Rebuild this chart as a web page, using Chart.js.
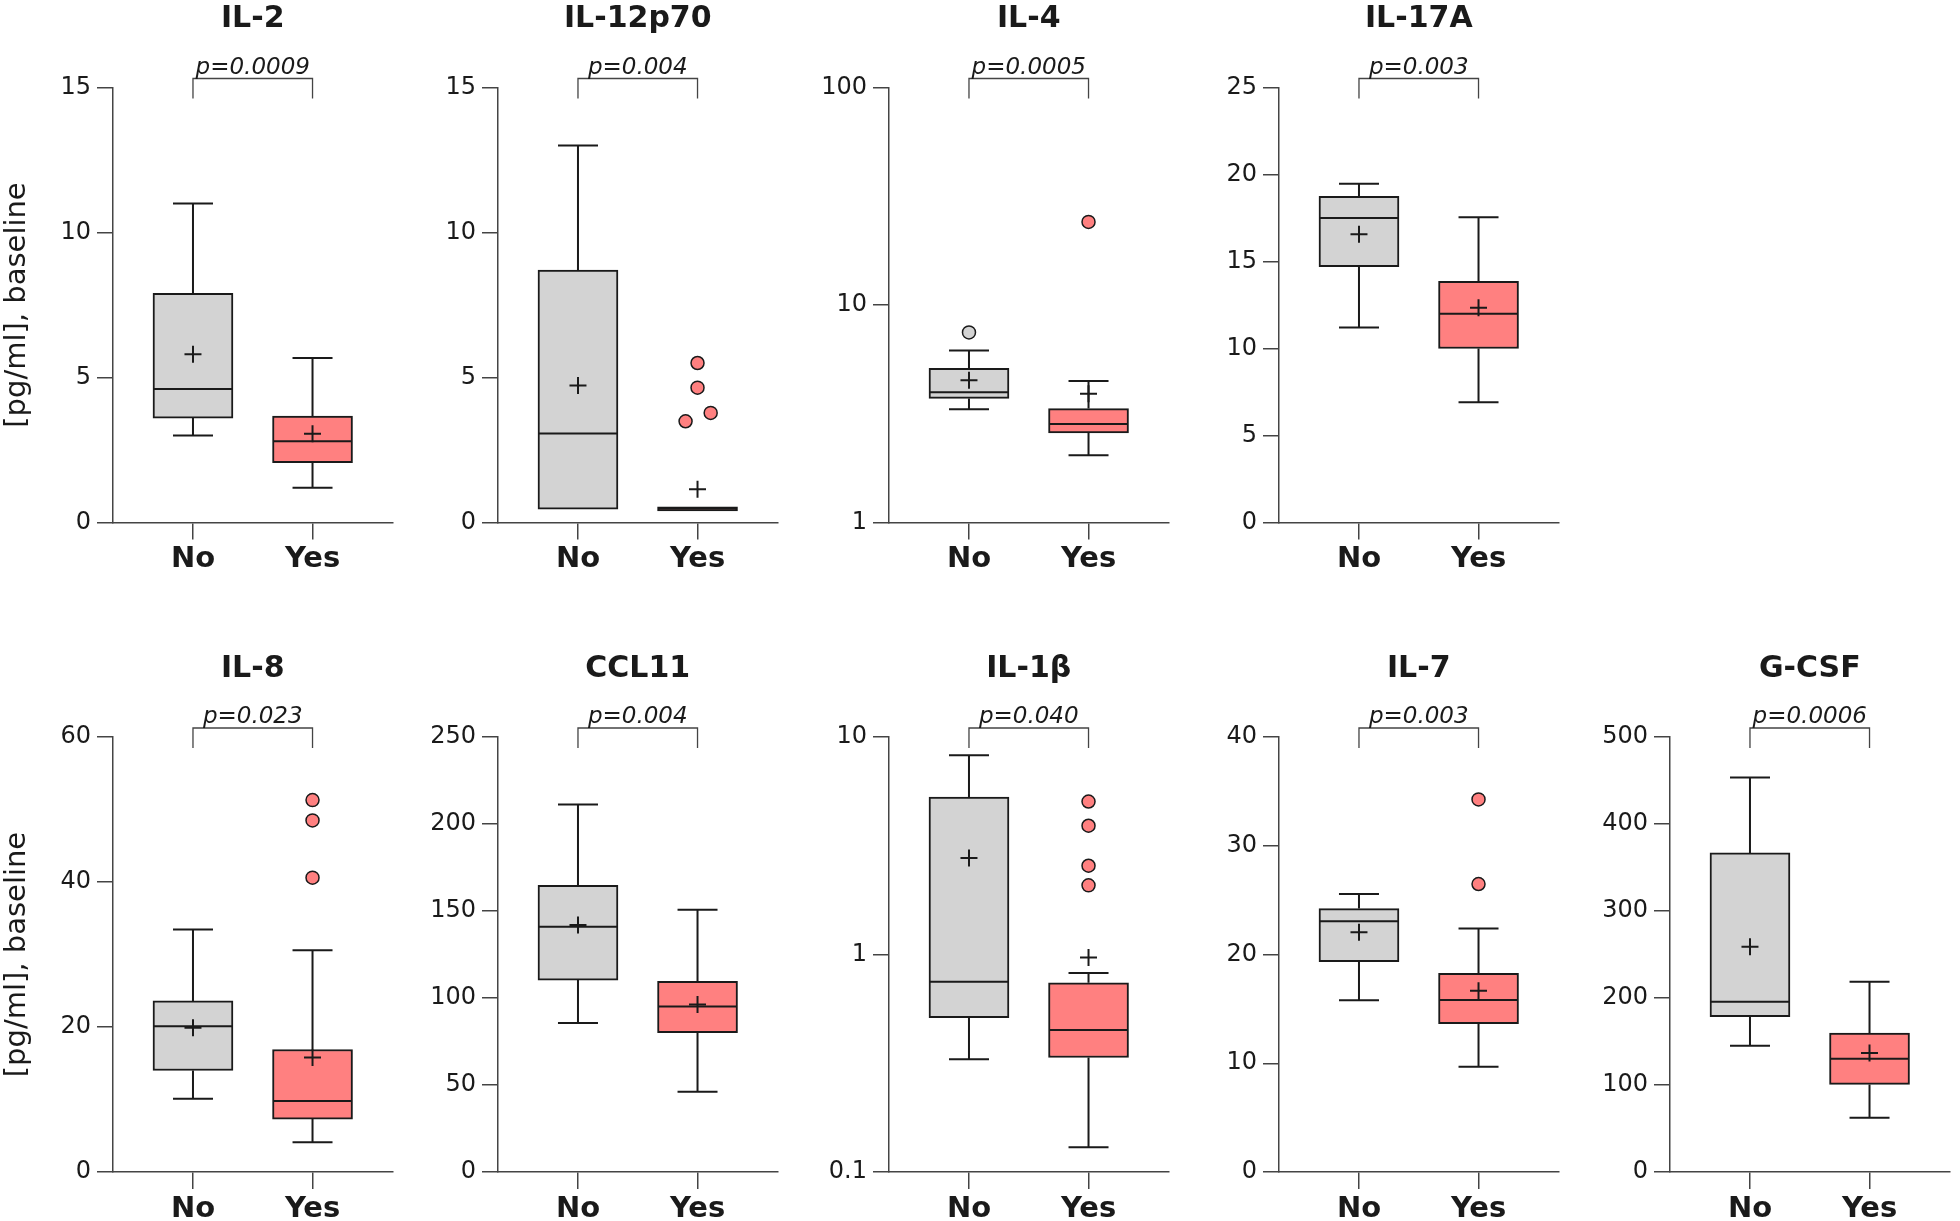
<!DOCTYPE html>
<html><head><meta charset="utf-8">
<script src="https://cdn.jsdelivr.net/npm/chart.js@4.4.1/dist/chart.umd.min.js"></script>
<style>
html,body{margin:0;padding:0;background:#fff;}
#wrap{position:relative;width:1960px;height:1221px;overflow:hidden;background:#fff;}
#wrap canvas{position:absolute;}
</style></head><body><div id="wrap"></div>
<script>
// ---------------- data ----------------
const panelTitles = ['IL-2','IL-12p70','IL-4','IL-17A','IL-8','CCL11','IL-1β','IL-7','G-CSF'];
const pValues = ['p=0.0009','p=0.004','p=0.0005','p=0.003','p=0.023','p=0.004','p=0.040','p=0.003','p=0.0006'];
const groups = ['No','Yes'];
const yAxisTitle = '[pg/ml], baseline';
const yTicks = [
  [0,5,10,15],[0,5,10,15],[1,10,100],[0,5,10,15,20,25],
  [0,20,40,60],[0,50,100,150,200,250],[0.1,1,10],[0,10,20,30,40],[0,100,200,300,400,500]
];
const logAxis = [false,false,true,false,false,false,true,false,false];
// [lower whisker, Q1, median, Q3, upper whisker]
const noStats = [
  [3.0,3.6,4.6,7.9,11.0],
  [0.46,0.46,3.07,8.7,13.0],
  [3.32,3.72,3.97,5.11,6.18],
  [11.2,14.7,17.5,18.75,19.47],
  [10.1,14.0,20.1,23.6,33.45],
  [85.6,110.3,141.0,164.8,211.2],
  [0.33,0.512,0.75,5.30,8.24],
  [15.8,19.33,23.06,24.22,25.56],
  [145,178.5,195.6,366.8,453.4]
];
const yesStats = [
  [1.2,2.06,2.8,3.67,5.67],
  [0.40,0.40,0.47,0.54,0.54],
  [2.04,2.58,2.84,3.34,4.47],
  [6.91,10.0,12.0,13.86,17.54],
  [4.1,7.3,9.8,16.9,30.6],
  [46.1,80.1,95.1,109.6,150.7],
  [0.13,0.336,0.45,0.741,0.823],
  [9.68,13.63,15.81,18.27,22.39],
  [62.4,100.7,130.2,159.6,218.6]
];
const noMeans  = [5.8,4.72,4.51,16.57,19.9,142,2.78,22.04,259];
const yesMeans = [3.06,1.15,3.91,12.34,15.8,96.2,0.97,16.66,136.8];
const noOutliers  = [[],[],[7.48],[],[],[],[],[],[]];
const yesOutliers = [[],[5.5,4.65,3.78,3.49],[24.1],[],[51.3,48.5,40.6],[],[5.05,3.91,2.56,2.08],[34.26,26.48],[]];
const yesJitter   = [[],[0,0,0.11,-0.1],[0],[],[0,0,0],[],[0,0,0,0],[0,0],[]];

// ---------------- layout / style ----------------
const AXIS_X = [113,498,889,1279,113,498,889,1279,1670];
const ROW_TOP = [0,0,0,0,650,650,650,650,650];
const TOPPAD = [87.5,87.5,87.5,87.5,87,87,87,87,87];
const CANVAS_H = 600;
const showYTitle = [true,false,false,false,true,false,false,false,false];
const YW = 113, PW = 290, XH = 56, PH = 435;
const FILL = ['#d3d3d3','#ff8080'];
const INK = '#1a1a1a', AXIS = '#444';
const FONT = '"DejaVu Sans", sans-serif';

const decorPlugin = {
  id: 'decor',
  afterDatasetsDraw(chart, args, opts) {
    const i = opts.idx, ctx = chart.ctx, xs = chart.scales.x, ys = chart.scales.y, a = chart.chartArea;
    ctx.save();
    ctx.strokeStyle = INK; ctx.lineWidth = 2;
    [noStats[i], yesStats[i]].forEach((s, g) => {
      const cx = xs.getPixelForValue(g);
      const [lo, q1, md, q3, hi] = s.map(v => ys.getPixelForValue(v));
      ctx.beginPath();
      if (hi < q3 - 0.5) { ctx.moveTo(cx, q3); ctx.lineTo(cx, hi); ctx.moveTo(cx - 20, hi); ctx.lineTo(cx + 20, hi); }
      if (lo > q1 + 0.5) { ctx.moveTo(cx, q1); ctx.lineTo(cx, lo); ctx.moveTo(cx - 20, lo); ctx.lineTo(cx + 20, lo); }
      ctx.moveTo(cx - 39, md); ctx.lineTo(cx + 39, md);
      ctx.stroke();
    });
    const x0 = xs.getPixelForValue(0), x1 = xs.getPixelForValue(1);
    ctx.strokeStyle = AXIS; ctx.lineWidth = 1.3;
    ctx.beginPath();
    ctx.moveTo(x0, a.top + 11); ctx.lineTo(x0, a.top - 9); ctx.lineTo(x1, a.top - 9); ctx.lineTo(x1, a.top + 11);
    ctx.stroke();
    ctx.fillStyle = INK; ctx.textAlign = 'center';
    ctx.font = 'italic 23px ' + FONT; ctx.textBaseline = 'alphabetic';
    ctx.fillText(pValues[i], (x0 + x1) / 2, a.top - 14);
    ctx.font = 'bold 30px ' + FONT; ctx.textBaseline = 'middle';
    ctx.fillText(panelTitles[i], (x0 + x1) / 2, a.top - 68);
    ctx.restore();
  }
};

const wrap = document.getElementById('wrap');
panelTitles.forEach((title, i) => {
  const W = YW + PW, H = CANVAS_H;
  const cv = document.createElement('canvas');
  cv.width = W; cv.height = H;
  cv.style.left = (AXIS_X[i] - YW) + 'px'; cv.style.top = ROW_TOP[i] + 'px';
  cv.style.width = W + 'px'; cv.style.height = H + 'px';
  wrap.appendChild(cv);

  const outPts = [], outCols = [];
  noOutliers[i].forEach(v => { outPts.push({x: 0, y: v}); outCols.push(FILL[0]); });
  yesOutliers[i].forEach((v, k) => { outPts.push({x: 1 + yesJitter[i][k], y: v}); outCols.push(FILL[1]); });

  const tv = yTicks[i];
  const st = [noStats[i], yesStats[i]];
  new Chart(cv, {
    type: 'bar',
    data: {
      datasets: [
        { type: 'bar', order: 3,
          data: groups.map((g, k) => ({x: k, y: [st[k][1], st[k][3]]})),
          backgroundColor: FILL, borderColor: INK, borderWidth: 2, borderSkipped: false,
          barThickness: 80, grouped: false },
        { type: 'scatter', order: 2, data: outPts,
          pointRadius: 6.5, pointBackgroundColor: outCols, pointBorderColor: INK, pointBorderWidth: 1.5 },
        { type: 'scatter', order: 1,
          data: [{x: 0, y: noMeans[i]}, {x: 1, y: yesMeans[i]}],
          pointStyle: 'cross', pointRadius: 8.5, pointBorderColor: INK, pointBorderWidth: 2 }
      ]
    },
    options: {
      responsive: false, animation: false, events: [],
      devicePixelRatio: 1,
      layout: { padding: { top: TOPPAD[i], left: 0, right: W - YW - PW, bottom: H - TOPPAD[i] - PH - XH } },
      plugins: { legend: { display: false }, tooltip: { enabled: false }, decor: { idx: i } },
      scales: {
        x: {
          type: 'linear', min: -0.669, max: 1.669, offset: false,
          grid: { drawOnChartArea: false, drawTicks: true, tickLength: 17, color: AXIS, lineWidth: 1.5, offset: false },
          border: { display: true, color: AXIS, width: 1.5 },
          ticks: { callback: v => groups[v] ?? '', font: { family: FONT, size: 29, weight: 'bold' }, color: INK,
                   padding: 3, maxRotation: 0, autoSkip: false },
          afterBuildTicks: s => { s.ticks = groups.map((g, k) => ({value: k})); },
          afterFit: s => { s.height = XH; }
        },
        y: {
          type: logAxis[i] ? 'logarithmic' : 'linear', min: tv[0], max: tv[tv.length - 1],
          grid: { drawOnChartArea: false, drawTicks: true, tickLength: 16, color: AXIS, lineWidth: 1.5 },
          border: { display: true, color: AXIS, width: 1.5 },
          ticks: { callback: v => String(v), font: { family: FONT, size: 24 }, color: INK, padding: 6, autoSkip: false },
          afterBuildTicks: s => { s.ticks = tv.map(v => ({value: v})); },
          afterFit: s => { s.width = YW; },
          title: { display: showYTitle[i], text: yAxisTitle, font: { family: FONT, size: 29 }, color: INK, padding: { top: 0, bottom: 0 } }
        }
      }
    },
    plugins: [decorPlugin]
  });
});
</script></body></html>
